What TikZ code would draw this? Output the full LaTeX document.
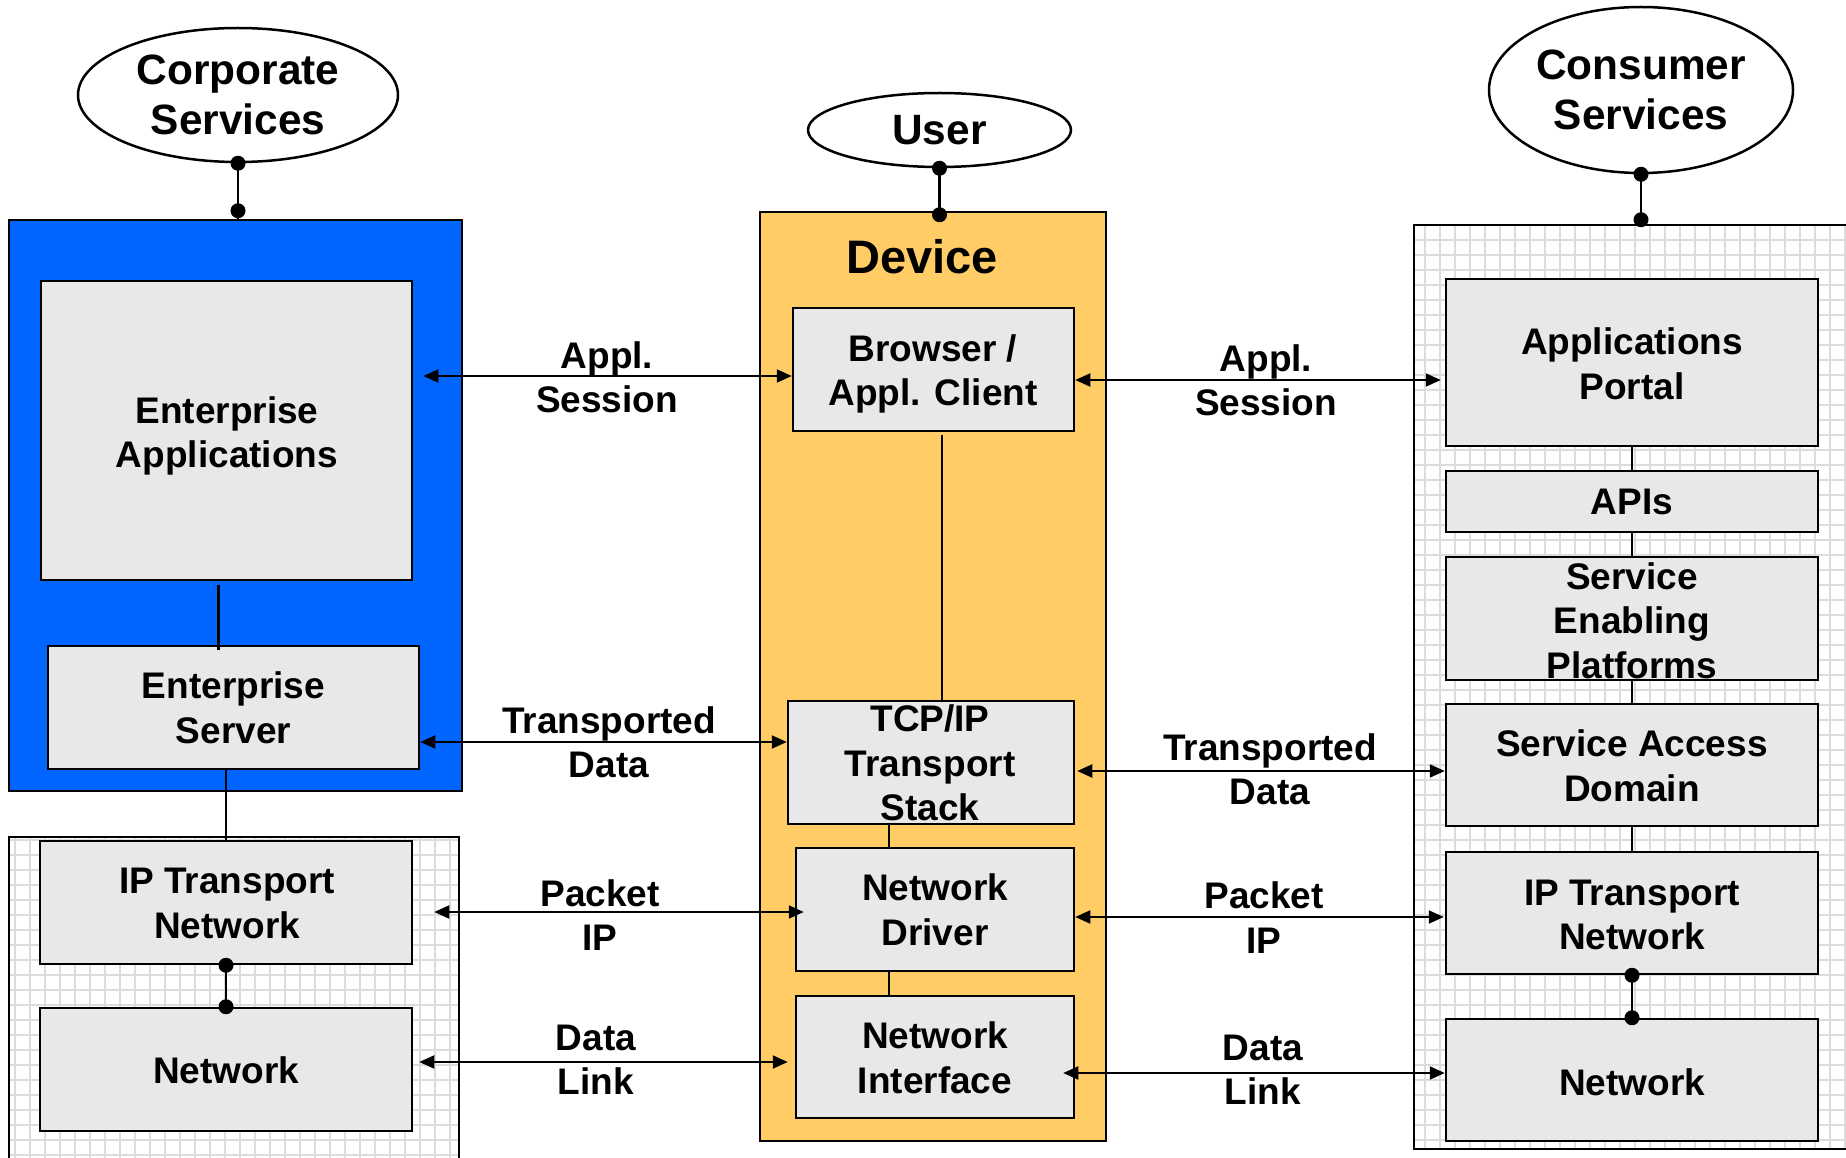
\documentclass[tikz,border=0pt]{standalone}
\usepackage{fontspec}
\setmainfont{Liberation Sans}
\usetikzlibrary{shapes.geometric,arrows.meta,calc}
\definecolor{corpblue}{HTML}{0066FF}
\definecolor{devorange}{HTML}{FFCC66}
\definecolor{boxgray}{HTML}{E8E8E8}
\definecolor{gridgray}{HTML}{DCDCDC}
\begin{document}
\begin{tikzpicture}[x=1pt,y=-1pt,
  box/.style={rectangle,draw=black,line width=2.5pt,fill=boxgray,inner sep=0pt},
  frame/.style={rectangle,draw=black,line width=2.5pt,inner sep=0pt},
  txt/.style={font=\fontsize{37}{44.5}\selectfont\bfseries,align=center,inner sep=0pt},
  oval/.style={ellipse,draw=black,line width=2.5pt,fill=white,inner sep=0pt,font=\fontsize{42.4}{50.6}\selectfont\bfseries,align=center},
  conn/.style={line width=2.5pt},
  biarrow/.style={line width=2pt,{Triangle[length=15pt,width=13pt]}-{Triangle[length=15pt,width=13pt]}},
  gridlines/.style={draw=gridgray,line width=1.3pt}
]
\fill[white] (0,0) rectangle (1846,1158);
\useasboundingbox (0,0) rectangle (1846,1158);

% grid backgrounds
\begin{scope}
  \clip (9,837) rectangle (459,1175);
  \draw[gridlines,step=15pt] (0,1180) grid (470,830);
\end{scope}
\begin{scope}
  \clip (1414,225) rectangle (1860,1149);
  \draw[gridlines,step=15pt] (1405,1155) grid (1860,220);
\end{scope}

% containers
\node[frame,minimum width=450pt,minimum height=338pt] (lgrid) at (234,1006) {};
\node[frame,minimum width=446pt,minimum height=924pt] (rgrid) at (1637,687) {};
\node[frame,fill=corpblue,minimum width=453pt,minimum height=571pt] (corpbox) at (235.5,505.5) {};
\node[frame,fill=devorange,minimum width=346pt,minimum height=929pt] (dev) at (933,676.5) {};

% boxes
\node[box,minimum width=371pt,minimum height=299pt] (apps) at (226.5,430.5) {};
\node[box,minimum width=371pt,minimum height=123pt] (server) at (233.5,707.5) {};
\node[box,minimum width=372pt,minimum height=123pt] (iptL) at (226,902.5) {};
\node[box,minimum width=372pt,minimum height=123pt] (netL) at (226,1069.5) {};
\node[box,minimum width=281pt,minimum height=123pt] (browser) at (933.5,369.5) {};
\node[box,minimum width=286pt,minimum height=123pt] (tcp) at (931,762.5) {};
\node[box,minimum width=278pt,minimum height=123pt] (driver) at (935,909.5) {};
\node[box,minimum width=278pt,minimum height=122pt] (iface) at (935,1057) {};
\node[box,minimum width=372pt,minimum height=167pt] (portal) at (1632,362.5) {};
\node[box,minimum width=372pt,minimum height=61pt] (apis) at (1632,501.5) {};
\node[box,minimum width=372pt,minimum height=123pt] (sep) at (1632,618.5) {};
\node[box,minimum width=372pt,minimum height=122pt] (sad) at (1632,765) {};
\node[box,minimum width=372pt,minimum height=122pt] (iptR) at (1632,913) {};
\node[box,minimum width=372pt,minimum height=122pt] (netR) at (1632,1080) {};

% ellipses
\node[oval,minimum width=320pt,minimum height=134pt] (corp) at (238,95) {Corporate\\Services};
\node[oval,minimum width=263pt,minimum height=74pt] (user) at (939.5,130) {User};
\node[oval,minimum width=304pt,minimum height=166pt] (cons) at (1641,90) {Consumer\\Services};

% ellipse connectors with dots
\draw[conn] (corp.south) -- (corp.south |- corpbox.north);
\fill (corp.south) circle[radius=7.5pt];
\fill ($(corp.south |- corpbox.north)+(0,-8)$) circle[radius=7.5pt];
\draw[conn] (user.south) -- (user.south |- dev.north);
\fill (user.south) circle[radius=7.5pt];
\fill ($(user.south |- dev.north)+(0,4)$) circle[radius=7.5pt];
\draw[conn] (cons.south) -- (cons.south |- rgrid.north);
\fill (cons.south) circle[radius=7.5pt];
\fill ($(cons.south |- rgrid.north)+(0,-4)$) circle[radius=7.5pt];

% internal connectors
\draw[conn] ($(apps.south)+(-8,4)$) -- ($(apps.south |- server.north)+(-8,5)$);
\draw[conn] (iptL.north |- server.south) -- (iptL.north);
\draw[conn] (iptL.south) -- (netL.north);
\fill (iptL.south) circle[radius=7.5pt];
\fill (netL.north) circle[radius=7.5pt];
\draw[conn] ($(browser.south)+(8.5,3)$) -- ($(browser.south |- tcp.north)+(8.5,0)$);
\draw[conn] ($(tcp.south)+(-42,0)$) -- ($(tcp.south |- driver.north)+(-42,0)$);
\draw[conn] ($(driver.south)+(-46,0)$) -- ($(driver.south |- iface.north)+(-46,0)$);
\draw[conn] (portal.south) -- (apis.north);
\draw[conn] (apis.south) -- (sep.north);
\draw[conn] (sep.south) -- (sad.north);
\draw[conn] (sad.south) -- (iptR.north);
\draw[conn] (iptR.south) -- (netR.north);
\fill (iptR.south) circle[radius=7.5pt];
\fill (netR.north) circle[radius=7.5pt];

% arrow levels
\coordinate (ya1) at (0,376);
\coordinate (ya2) at (0,380);
\coordinate (yt1) at (0,742);
\coordinate (yt2) at (0,771);
\coordinate (yp1) at (0,912);
\coordinate (yp2) at (0,917);
\coordinate (yd1) at (0,1062);
\coordinate (yd2) at (0,1073);

\draw[biarrow] ($(apps.east |- ya1)+(10,0)$) -- (browser.west |- ya1);
\draw[biarrow] (browser.east |- ya2) -- ($(portal.west |- ya2)+(-4,0)$);
\draw[biarrow] (server.east |- yt1) -- (tcp.west |- yt1);
\draw[biarrow] ($(tcp.east |- yt2)+(2,0)$) -- (sad.west |- yt2);
\draw[biarrow] ($(iptL.east |- yp1)+(21,0)$) -- ($(driver.west |- yp1)+(9,0)$);
\draw[biarrow] (driver.east |- yp2) -- ($(iptR.west |- yp2)+(-1,0)$);
\draw[biarrow] ($(netL.east |- yd1)+(6,0)$) -- ($(iface.west |- yd1)+(-7,0)$);
\draw[biarrow] ($(iface.east |- yd2)+(-12,0)$) -- (netR.west |- yd2);

% arrow labels
\node[txt] (l-as1) at (607,377.5) {Appl.\\Session};
\node[txt] (l-as2) at (1266,380.5) {Appl.\\Session};
\node[txt] (l-td1) at (609,742.5) {Transported\\Data};
\node[txt] (l-td2) at (1270,769.5) {Transported\\Data};
\node[txt] (l-pi1) at (600,915) {Packet\\IP};
\node[txt] (l-pi2) at (1264,917.5) {Packet\\IP};
\node[txt] (l-dl1) at (596,1060) {Data\\Link};
\node[txt] (l-dl2) at (1263,1070) {Data\\Link};

% box texts
\node[font=\fontsize{47}{56}\selectfont\bfseries,inner sep=0pt] (devtitle) at (922,257) {Device};
\node[txt] (t-apps) at (227,436) {Enterprise\\Applications};
\node[txt] (t-server) at (233.5,708) {Enterprise\\Server};
\node[txt] (t-iptL) at (227,903.5) {IP Transport\\Network};
\node[txt] (t-netL) at (226,1070) {Network};
\node[txt] (t-browser) at (933,374) {Browser /\\Appl. Client};
\node[txt] (t-tcp) at (930,763) {TCP/IP\\Transport\\Stack};
\node[txt] (t-driver) at (935,910) {Network\\Driver};
\node[txt] (t-iface) at (935,1058) {Network\\Interface};
\node[txt] (t-portal) at (1632,364) {Applications\\Portal};
\node[txt] (t-apis) at (1632,502) {APIs};
\node[txt] (t-sep) at (1632,620.5) {Service\\Enabling\\Platforms};
\node[txt] (t-sad) at (1632,766) {Service Access\\Domain};
\node[txt] (t-iptR) at (1632,915) {IP Transport\\Network};
\node[txt] (t-netR) at (1632,1082) {Network};
\end{tikzpicture}
\end{document}
